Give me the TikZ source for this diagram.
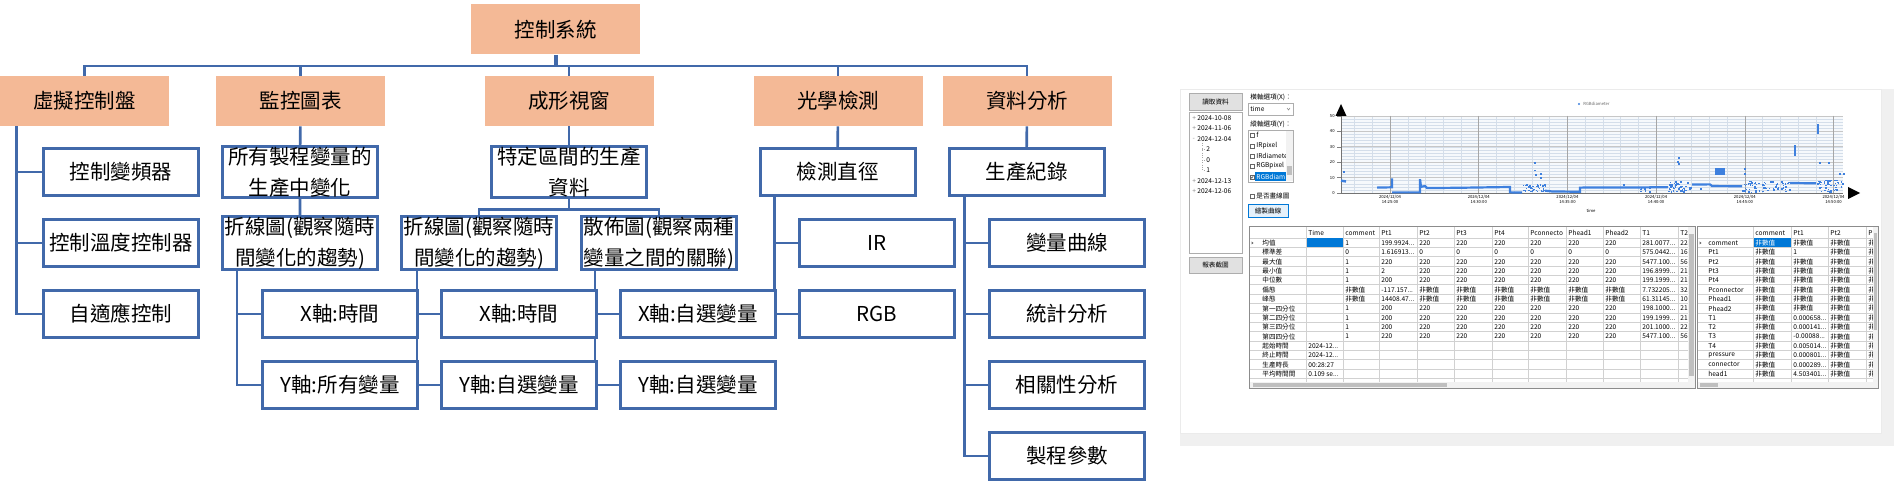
\documentclass[tikz,border=0pt]{standalone}
\usepackage{fontspec}
\setmainfont{Noto Sans CJK TC}
\usetikzlibrary{positioning,backgrounds}

\definecolor{boxline}{RGB}{65,105,170}
\definecolor{peach}{RGB}{244,185,150}
\definecolor{btngray}{RGB}{225,225,225}
\definecolor{uiline}{RGB}{173,173,173}
\definecolor{selblue}{RGB}{0,120,215}
\definecolor{btnblue}{RGB}{229,241,251}
\definecolor{dotblue}{RGB}{62,128,222}
\definecolor{gridln}{RGB}{212,222,234}
\definecolor{plotbg}{RGB}{246,249,252}

\newcommand{\treefont}{\fontsize{10.25}{15.5}\selectfont}
\newcommand{\uifont}{\fontsize{3.3}{4}\selectfont}
\newcommand{\tinyfont}{\fontsize{2.1}{2.6}\selectfont}
\newcommand{\trunc}{...}

\tikzset{
  topbox/.style={fill=peach, minimum width=84.5pt, minimum height=25pt, inner sep=0pt, font=\treefont},
  subbox/.style={draw=boxline, line width=1.5pt, fill=white, minimum width=77.5pt, minimum height=23.5pt, inner sep=0pt, align=center, font=\treefont},
  conn/.style={draw=boxline, line width=1.3pt},
  ui/.style={font=\uifont, inner sep=0pt, anchor=west},
  btn/.style={draw=uiline, line width=0.3pt, fill=btngray, inner sep=0pt, font=\uifont},
  cell/.style={black!18, line width=0.3pt},
}

\begin{document}
\begin{tikzpicture}[x=0.5pt, y=-0.5pt]
\useasboundingbox (0,0) rectangle (1894,491);

% ---- hierarchy ----
\node[topbox] (root) at (555.5,29.5) {控制系統};
\node[topbox] (vcp)  at (84.5,101)  {虛擬控制盤};
\node[topbox] (mon)  at (300.5,101) {監控圖表};
\node[topbox] (form) at (569,101)   {成形視窗};
\node[topbox] (opt)  at (838,101)   {光學檢測};
\node[topbox] (dat)  at (1027,101)  {資料分析};

\node[subbox] (v1) at (121,172) {控制變頻器};
\node[subbox] (v2) at (121,243) {控制溫度控制器};
\node[subbox] (v3) at (121,314) {自適應控制};

\node[subbox] (m1) at (300,172) {所有製程變量的\\生產中變化};
\node[subbox] (m2) at (300,243) {折線圖(觀察隨時\\間變化的趨勢)};
\node[subbox] (m3) at (340,314) {X軸:時間};
\node[subbox] (m4) at (340,385) {Y軸:所有變量};

\node[subbox] (f1) at (569,172) {特定區間的生產\\資料};
\node[subbox] (f2) at (479,243) {折線圖(觀察隨時\\間變化的趨勢)};
\node[subbox] (f3) at (659,243) {散佈圖(觀察兩種\\變量之間的關聯)};
\node[subbox] (f4) at (519,314) {X軸:時間};
\node[subbox] (f5) at (519,385) {Y軸:自選變量};
\node[subbox] (f6) at (698,314) {X軸:自選變量};
\node[subbox] (f7) at (698,385) {Y軸:自選變量};

\node[subbox] (o1) at (837.5,172) {檢測直徑};
\node[subbox] (o2) at (877,243) {IR};
\node[subbox] (o3) at (877,314) {RGB};

\node[subbox] (d1) at (1026.5,172) {生產紀錄};
\node[subbox] (d2) at (1067,243) {變量曲線};
\node[subbox] (d3) at (1067,314) {統計分析};
\node[subbox] (d4) at (1067,385) {相關性分析};
\node[subbox] (d5) at (1067,456) {製程參數};

\begin{scope}[on background layer]
  \fill[white] (0,0) rectangle (1894,491);
  \draw[conn, line width=2pt] (root.south) -- ++(0,11) coordinate (rb);
  \foreach \n in {vcp,mon,form,opt,dat} \draw[conn] (\n.north) |- (rb);
  \foreach \n in {v1,v2,v3} \draw[conn] ([xshift=8.5pt]vcp.south west) |- (\n.west);
  \draw[conn] (mon) -- (m1) -- (m2);
  \foreach \n in {m3,m4} \draw[conn] ([xshift=8pt]m2.south west) |- (\n.west);
  \draw[conn] (form) -- (f1);
  \draw[conn] (f1.south) -- ++(0,11) coordinate (fb);
  \draw[conn] (f2.north) |- (fb) -| (f3.north);
  \foreach \n in {f4,f5} \draw[conn] ([xshift=8.5pt]f2.south west) |- (\n.west);
  \foreach \n in {f6,f7} \draw[conn] ([xshift=7.5pt]f3.south west) |- (\n.west);
  \draw[conn] (opt) -- (o1);
  \foreach \n in {o2,o3} \draw[conn] ([xshift=8pt]o1.south west) |- (\n.west);
  \draw[conn] (dat) -- (d1);
  \foreach \n in {d2,d3,d4,d5} \draw[conn] ([xshift=8.5pt]d1.south west) |- (\n.west);
\end{scope}

% ---- screenshot of the analysis window ----
\fill[black!6] (1881,89) rectangle (1894,446);
\fill[black!6] (1180,433) rectangle (1894,446);
\draw[black!8, line width=0.4pt] (1180,89) rectangle (1881,433);

% left column
\node[btn, minimum width=26.5pt, minimum height=8.5pt] (readbtn) at (1215.5,101.5) {讀取資料};
\node[draw=uiline, line width=0.3pt, minimum width=26.5pt, minimum height=70.5pt, inner sep=0pt] (datelist) at (1215.5,182.5) {};
\foreach \d/\yy in {2024-10-08/118, 2024-11-06/128, 2024-12-04/139, 2024-12-13/181, 2024-12-06/191}
  \node[ui] at (1197,\yy) {\d};
\foreach \yy in {118,128,181,191} \node[ui, text=black!45] at (1192,\yy) {+};
\node[ui, text=black!45] at (1192.3,139) {-};
\draw[black!35, line width=0.2pt, densely dotted] (1202,143) -- (1202,170) -- (1205,170);
\draw[black!35, line width=0.2pt, densely dotted] (1202,149) -- (1205,149) (1202,160) -- (1205,160);
\foreach \c/\yy in {2/149, 0/160, 1/170} \node[ui] at (1206,\yy) {\c};
\node[btn, minimum width=26.5pt, minimum height=8pt] (shotbtn) at (1215.5,265) {報表截圖};

% axis selectors
\node[ui] (xlab) at (1250,97) {橫軸選項(X)：};
\node[draw=uiline, line width=0.3pt, minimum width=22.5pt, minimum height=6pt, inner sep=0pt] (xcombo) at (1270.5,109) {};
\node[ui] (xval) at (1250,109) {time};
\draw[black!50, line width=0.25pt] (1287,108) -- (1288.5,110) -- (1290,108);
\node[ui] (ylab) at (1250,124) {縱軸選項(Y)：};
\node[draw=uiline, line width=0.3pt, minimum width=22.5pt, minimum height=26pt, inner sep=0pt] (ylist) at (1270.5,156) {};
\begin{scope}
  \clip (1249,131) rectangle (1286,181.5);
  \fill[selblue] (1255,172.5) rectangle (1286,181.5);
  \foreach \s/\yy in {f/135, IRpixel/146, IRdiamete/156, RGBpixel/166} {
    \draw[black!60, line width=0.25pt] (1250,\yy-2) rectangle ++(4,4);
    \node[ui] at (1256,\yy) {\s};
  }
  \draw[black!60, line width=0.25pt] (1250,175) rectangle ++(4,4);
  \draw[black!75, line width=0.25pt] (1250.8,177) -- (1251.8,178.3) -- (1253.3,175.8);
  \node[ui, text=white] at (1256,177) {RGBdiam};
\end{scope}
\fill[black!5] (1286,131) rectangle (1292.5,181);
\fill[black!25] (1287,166) rectangle (1291.5,175);
\draw[black!60, line width=0.25pt] (1250,194) rectangle ++(4,4);
\node[ui] (linechk) at (1256,196) {是否畫線圖};
\node[draw=selblue, line width=0.3pt, fill=btnblue, minimum width=20pt, minimum height=6.5pt, inner sep=0pt, font=\uifont] (plotbtn) at (1268,210.5) {繪製曲線};

% chart
\fill[plotbg] (1341,116) rectangle (1843,193);
\foreach \v in {2,4,...,48} \draw[gridln, line width=0.25pt] (1341,193-1.54*\v) -- (1843,193-1.54*\v);
\foreach \i in {-2,...,25} {
  \pgfmathsetmacro\gx{1390+17.74*\i}
  \draw[gridln, line width=0.25pt] (\gx,116) -- (\gx,193);
}
\foreach \v in {10,20,...,50} \draw[black!22, line width=0.3pt] (1341,193-1.54*\v) -- (1843,193-1.54*\v);
\foreach \i in {0,...,5} \draw[black!35, line width=0.3pt] (1390+88.7*\i,116) -- (1390+88.7*\i,193);
\foreach \v in {0,10,...,50} {
  \draw[black!50, line width=0.25pt] (1337,193-1.54*\v) -- (1341,193-1.54*\v);
  \node[font=\tinyfont, inner sep=0pt, anchor=east] at (1335,193-1.54*\v) {\v};
}
\draw[black!55, line width=0.4pt] (1341,116) -- (1341,193) -- (1843,193);
\fill[black] (1341,104) -- (1346.5,116) -- (1335.5,116) -- cycle;
\fill[black] (1860,193) -- (1848,187) -- (1848,199) -- cycle;
\foreach \t [count=\k from 0] in {14:25:00,14:30:00,14:35:00,14:40:00,14:45:00,14:50:00}
  \node[font=\tinyfont, inner sep=0pt, align=center, anchor=north] at (1390+88.7*\k,195) {2024/12/04\\\t};
\node[font=\tinyfont, inner sep=0pt] (timelab) at (1591,211) {time};
\fill[dotblue] (1579,104) circle (0.6pt);
\node[font=\tinyfont, inner sep=0pt, anchor=west, text=black!60] (legend) at (1583,104) {RGBdiameter};

\begin{scope}[shift={(0,193)}, y=0.77pt, dotblue]
  \pgfmathsetseed{7}
  \draw[line width=1.2pt] (1341,8) -- (1346,7.5);
  \draw[line width=1.1pt] (1377,3.5) -- (1392,3.7) -- (1392,9.5);
  \draw[line width=1.1pt] (1392,0.4) -- (1420,0.4) -- (1420,9) -- (1421,4) -- (1425,4.5)
    -- (1427,3.2) -- (1460,3.4) -- (1490,3.7) -- (1510,3.9) -- (1510,0.4) -- (1522,0.3);
  \draw[line width=1.1pt] (1545,1.5) -- (1552,1) -- (1580,0.8) -- (1580,3.5) -- (1640,3.6) -- (1668,3.8);
  \draw[line width=1.1pt] (1692,5.5) -- (1710,5.6) -- (1712,4.5) -- (1742,4.4);
  \draw[line width=1.1pt] (1790,6.5) -- (1816,6.3);
  \foreach \a/\b/\c/\n in {1522/1545/5/35, 1640/1652/3/10, 1668/1692/7/45, 1742/1790/7/70, 1816/1843/8/45}
    \foreach \i in {1,...,\n} {
      \pgfmathsetmacro\nx{\a+rnd*(\b-\a)}
      \pgfmathsetmacro\nv{rnd*\c}
      \fill (\nx,\nv) rectangle ++(1.5,0.9);
    }
  \foreach \sx/\sv in {1343/13, 1534/19, 1534/14, 1535/11, 1540/12, 1540/9, 1678/22, 1677/19.5,
      1678/18, 1744/15, 1744/12, 1819/19, 1828/19, 1839/12, 1843/12, 1700/2, 1623/4.5}
    \fill (\sx,\sv) rectangle ++(1.6,1.2);
  \fill (1715,12) rectangle (1725,16);
  \fill (1793.5,24) rectangle (1795.5,31);
  \fill (1816.5,38) rectangle (1818.5,45);
\end{scope}

% statistics table
\draw[black!45, line width=0.4pt, fill=white] (1249,226) rectangle (1695,388);
\begin{scope}
  \clip (1250,227) rectangle (1688,382);
  \foreach \k in {0,...,15} \draw[cell] (1250,238+9.36*\k) -- (1688,238+9.36*\k);
  \foreach \cx in {1306,1343,1379,1417,1454,1492,1528,1566,1603,1640,1678} \draw[cell] (\cx,227) -- (\cx,382);
  \fill[selblue] (1306.5,238.5) rectangle (1342.5,247.2);
  \fill[black!60] (1251.5,241.5) -- (1253.5,243) -- (1251.5,244.5) -- cycle;
  \foreach \h/\cx in {Time/1306,comment/1343,Pt1/1379,Pt2/1417,Pt3/1454,Pt4/1492,Pconnecto/1528,Phead1/1566,Phead2/1603,T1/1640,T2/1678}
    \node[ui] at (\cx+2,233) {\h};
  \foreach \lab/\cm/\pa/\pb/\ta/\tb [count=\r from 0] in {
      均值/1/199.9924\trunc/220/281.0077\trunc/224,
      標準差/0/1.616913\trunc/0/575.0442\trunc/160,
      最大值/1/220/220/5477.100\trunc/560,
      最小值/1/2/220/196.8999\trunc/217,
      中位數/1/200/220/199.1999\trunc/219,
      偏態/非數值/-117.157\trunc/非數值/7.732205\trunc/32.,
      峰態/非數值/14408.47\trunc/非數值/61.31145\trunc/10.,
      第一四分位/1/200/220/198.1000\trunc/219,
      第二四分位/1/200/220/199.1999\trunc/219,
      第三四分位/1/200/220/201.1000\trunc/220,
      第四四分位/1/220/220/5477.100\trunc/560} {
    \pgfmathsetmacro\ry{243+9.36*\r}
    \node[ui] at (1262,\ry) {\lab};
    \node[ui] at (1345,\ry) {\cm};
    \node[ui] at (1381,\ry) {\pa};
    \foreach \cx in {1417,1454,1492,1528,1566,1603} \node[ui] at (\cx+2,\ry) {\pb};
    \node[ui] at (1642,\ry) {\ta};
    \node[ui] at (1680,\ry) {\tb};
  }
  \foreach \lab/\tv [count=\r from 11] in {起始時間/2024-12\trunc, 終止時間/2024-12\trunc, 生產時長/00:28:27, 平均時間間/0.109 se\trunc} {
    \pgfmathsetmacro\ry{243+9.36*\r}
    \node[ui] at (1262,\ry) {\lab};
    \node[ui] at (1308,\ry) {\tv};
  }
\end{scope}
\fill[black!5] (1250,382) rectangle (1688,387.6);
\fill[black!25] (1253,383) rectangle (1447,386.6);
\fill[black!5] (1688,227) rectangle (1694.6,387.6);
\fill[black!25] (1689,234) rectangle (1693.6,376);

% correlation table
\draw[black!45, line width=0.4pt, fill=white] (1697,226) rectangle (1878,388);
\begin{scope}
  \clip (1698,227) rectangle (1873,382);
  \foreach \k in {0,...,15} \draw[cell] (1698,238+9.36*\k) -- (1873,238+9.36*\k);
  \foreach \cx in {1753,1791,1828,1866} \draw[cell] (\cx,227) -- (\cx,382);
  \fill[selblue] (1753.5,238.5) rectangle (1790.5,247.2);
  \fill[black!60] (1699.5,241.5) -- (1701.5,243) -- (1699.5,244.5) -- cycle;
  \foreach \h/\cx in {comment/1753,Pt1/1791,Pt2/1828,P/1866} \node[ui] at (\cx+2,233) {\h};
  \foreach \lab/\a/\b [count=\r from 0] in {comment/非數值/非數值, Pt1/非數值/1, Pt2/非數值/非數值,
      Pt3/非數值/非數值, Pt4/非數值/非數值, Pconnector/非數值/非數值, Phead1/非數值/非數值,
      Phead2/非數值/非數值, T1/非數值/0.000658\trunc, T2/非數值/0.000141\trunc,
      T3/非數值/-0.00088\trunc, T4/非數值/0.005014\trunc, pressure/非數值/0.000801\trunc,
      connector/非數值/0.000289\trunc, head1/非數值/4.503401\trunc} {
    \pgfmathsetmacro\ry{243+9.36*\r}
    \ifnum\r=0 \def\tcol{white}\else\def\tcol{black}\fi
    \node[ui] at (1708,\ry) {\lab};
    \node[ui, text=\tcol] at (1755,\ry) {\a};
    \node[ui] at (1793,\ry) {\b};
    \node[ui] at (1830,\ry) {非數值};
    \node[ui] at (1868,\ry) {非數值};
  }
\end{scope}
\fill[black!5] (1698,382) rectangle (1873,387.6);
\fill[black!25] (1700,383) rectangle (1718,386.6);
\fill[black!5] (1873,227) rectangle (1877.6,387.6);
\fill[black!25] (1873.6,233) rectangle (1877,330);
\end{tikzpicture}
\end{document}
